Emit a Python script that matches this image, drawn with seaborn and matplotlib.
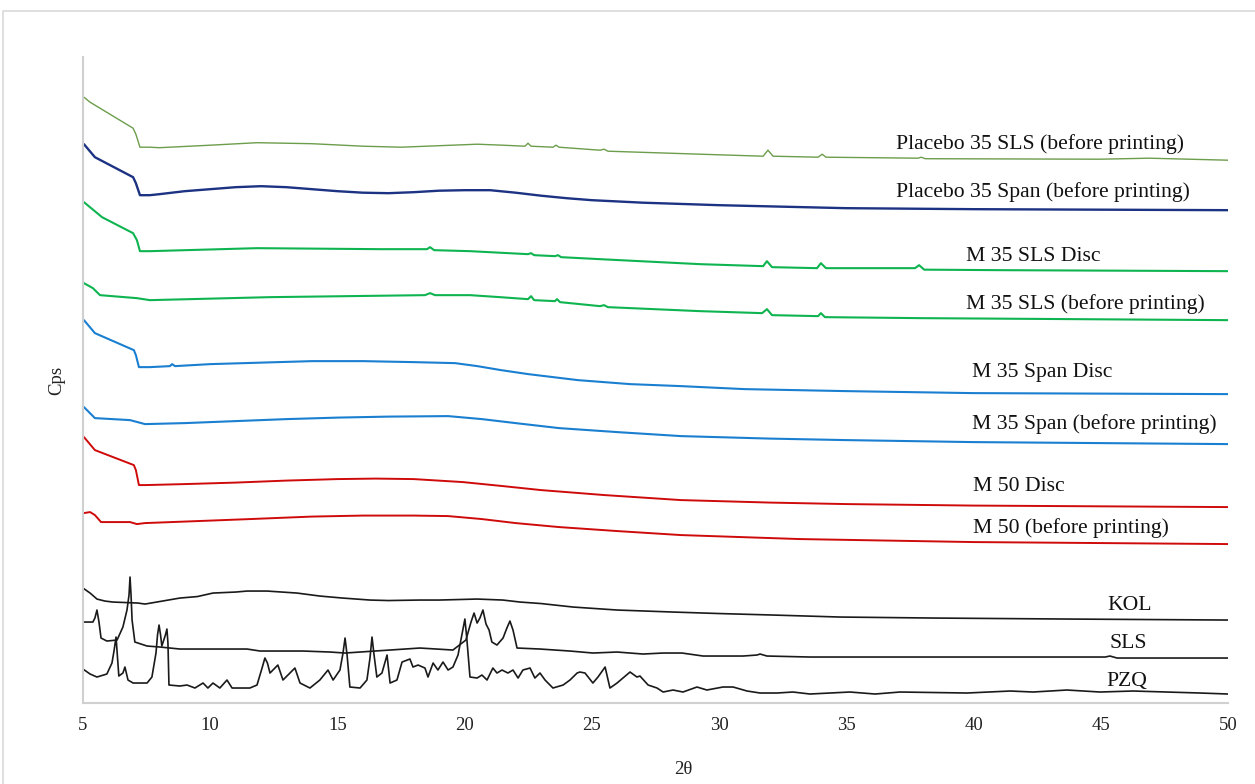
import numpy as np
import pandas as pd
import matplotlib
matplotlib.use("Agg")
import matplotlib.pyplot as plt
import matplotlib.patches as patches
import seaborn as sns

# 2theta / stacked intensity (arbitrary Cps, offset already included)
placebo_sls_x = [5.04, 5.28, 5.67, 6.97, 7.08, 7.24, 7.63, 8.0, 10.0, 11.84, 14.0, 16.0, 17.5, 19.0, 20.5, 21.5,
                 22.37, 22.49, 22.61, 23.47, 23.59, 23.71, 25.32, 25.48, 25.63, 29.25, 31.73, 31.92, 32.12,
                 33.89, 34.05, 34.2, 37.82, 37.94, 38.1, 44.97, 46.9, 50.0]
placebo_sls_y = [606, 601, 595, 575, 569, 556, 556, 555.5, 558, 560.5, 559.5, 557, 556, 557.5, 559, 558,
                 557, 560, 557, 556, 558, 556, 553, 554, 552, 549, 547, 553, 547,
                 546, 549, 546, 545, 546, 544.5, 544, 545, 543]

placebo_span_x = [5.04, 5.47, 6.97, 7.08, 7.24, 7.63, 8.0, 9.0, 10.0, 11.0, 12.0, 13.0, 14.0, 15.0, 16.0, 17.0,
                  18.0, 19.0, 20.0, 21.0, 22.0, 23.0, 24.0, 25.0, 27.0, 30.0, 35.0, 40.0, 50.0]
placebo_span_y = [559, 546, 526, 520, 508, 508, 509, 512, 514, 516, 517, 516, 514, 512, 510.5, 510,
                  511, 512.5, 513, 513, 510.5, 507.5, 505, 503, 500.5, 498, 495, 494, 493]

m35_sls_disc_x = [5.04, 5.75, 6.97, 7.12, 7.24, 7.63, 11.84, 16.67, 18.52, 18.64, 18.8, 20.21, 22.49, 22.61, 22.73,
                  23.55, 23.67, 23.79, 25.32, 29.25, 31.73, 31.88, 32.08, 33.85, 34.0, 34.2, 37.7, 37.86, 38.06, 41.04, 50.0]
m35_sls_disc_y = [501, 486, 470, 463, 452, 452, 455, 454, 454, 456, 453, 452, 449, 450, 448,
                  447, 448, 446, 444, 439, 437, 442, 436, 435, 440, 435, 435, 438, 433.5, 433, 432]

m35_sls_before_x = [5.04, 5.39, 5.67, 7.12, 7.63, 12.35, 18.44, 18.64, 18.84, 20.21, 21.39, 22.49, 22.61, 22.73,
                    23.55, 23.63, 23.75, 25.32, 25.48, 25.63, 29.25, 31.69, 31.88, 32.08, 33.89, 34.0, 34.16, 37.9, 50.0]
m35_sls_before_y = [420, 415, 408, 405, 403, 406, 408, 410, 408, 408, 406, 404, 407, 403,
                    402, 404, 401, 397, 398, 396, 392, 390, 394, 388, 387, 390, 386, 385, 383]

m35_span_disc_x = [5.04, 5.47, 7.0, 7.08, 7.2, 7.63, 8.42, 8.5, 8.62, 10.0, 12.0, 14.0, 16.0, 18.0, 19.62, 20.5,
                   21.43, 22.5, 24.45, 26.5, 28.5, 31.0, 35.0, 40.0, 50.0]
m35_span_disc_y = [383, 370, 353, 348, 336, 336, 337, 339, 337, 339, 340.5, 342, 342, 341, 340, 337,
                   333, 329, 323, 319, 317, 314, 312, 310, 309]

m35_span_before_x = [5.04, 5.47, 6.85, 7.44, 9.0, 11.0, 13.0, 15.0, 17.0, 19.35, 20.68, 22.0, 23.71, 26.0, 28.5,
                     32.0, 35.0, 40.0, 50.0]
m35_span_before_y = [296, 285, 283, 279, 280, 282, 284, 285.5, 286.5, 287, 284, 280, 275, 271, 267,
                     264.5, 263, 261, 259]

m50_disc_x = [5.04, 5.47, 7.0, 7.08, 7.2, 7.44, 9.0, 11.0, 13.0, 15.0, 16.5, 18.0, 19.93, 21.5, 23.0, 25.5, 28.5,
              32.0, 35.0, 40.0, 50.0]
m50_disc_y = [266, 253, 238, 233, 218, 218, 219, 220.5, 222.5, 224, 224.5, 224, 221, 217, 213, 208, 203,
              200.5, 199, 197.5, 196]

m50_before_x = [5.04, 5.28, 5.47, 5.71, 6.85, 7.12, 7.44, 9.0, 11.56, 14.0, 16.0, 18.0, 19.35, 20.68, 22.0, 23.71,
                26.0, 28.5, 33.18, 40.0, 50.0]
m50_before_y = [190, 191, 188, 181, 181, 179, 180, 181.5, 184, 186.5, 187.5, 187.5, 187, 184, 180, 176,
                172, 168, 164, 161, 159]

kol_x = [5.0, 5.28, 5.55, 5.86, 6.18, 7.16, 7.44, 7.9, 8.81, 9.5, 10.11, 11.0, 11.45, 12.23, 13.41, 14.31, 15.2,
         16.28, 17.0, 18.24, 19.0, 20.49, 21.5, 22.18, 23.0, 24.26, 26.0, 28.19, 30.0, 32.12, 34.75, 38.41, 43.67, 50.0]
kol_y = [115, 110, 104, 102, 101, 100, 99, 101, 105, 106.5, 110, 111, 112, 112, 110, 107, 105,
         103, 102.5, 103, 103, 104, 103, 101, 99.5, 96, 93, 91, 89.5, 88, 86, 85, 84, 83]

sls_x = [5.0, 5.39, 5.47, 5.55, 5.63, 5.71, 5.94, 6.34, 6.57, 6.73, 6.81, 6.85, 6.89, 6.93, 7.04, 7.52, 8.03, 8.81,
         10.11, 11.45, 11.96, 13.65, 14.71, 15.3, 18.24, 19.54, 20.05, 20.25, 20.37, 20.49, 20.6, 20.72, 20.84,
         20.96, 21.07, 21.27, 21.51, 21.66, 21.78, 21.9, 22.06, 22.96, 24.14, 25.04, 25.99, 27.01, 27.8, 28.54,
         29.37, 30.94, 31.49, 31.61, 31.88, 33.57, 37.11, 42.34, 45.17, 45.36, 45.64, 50.0]
sls_y = [81, 81, 85, 93, 81, 65, 62, 63, 76, 93, 108, 126, 108, 83, 61, 57, 56, 54,
         54, 54, 52, 52, 51, 50, 55, 53, 63, 81, 90, 80, 85, 93, 79,
         73, 61, 58, 65, 75, 82, 73, 55, 54, 52, 50, 51, 49, 50, 50,
         47, 47, 48, 49, 47, 46, 46, 46, 46, 47, 45, 45]

pzq_x = [5.0, 5.28, 5.55, 5.94, 6.14, 6.22, 6.3, 6.36, 6.41, 6.57, 6.65, 6.77, 6.97, 7.52, 7.71, 7.87, 7.93, 7.99,
         8.05, 8.1, 8.24, 8.3, 8.34, 8.38, 8.81, 9.09, 9.4, 9.72, 9.91, 10.11, 10.38, 10.66, 10.86, 11.56, 11.84,
         12.05, 12.15, 12.25, 12.35, 12.66, 12.86, 13.33, 13.53, 13.92, 14.31, 14.63, 14.83, 15.1, 15.22, 15.3,
         15.38, 15.49, 15.89, 16.16, 16.28, 16.36, 16.44, 16.55, 16.75, 16.95, 17.07, 17.34, 17.54, 17.85, 17.97,
         18.17, 18.44, 18.56, 18.76, 18.95, 19.15, 19.35, 19.54, 19.74, 19.92, 20.01, 20.08, 20.21, 20.49, 20.68,
         20.88, 21.11, 21.27, 21.47, 21.7, 21.9, 22.1, 22.29, 22.57, 22.76, 22.96, 23.16, 23.47, 23.87, 24.14,
         24.42, 24.53, 24.73, 25.04, 25.24, 25.52, 25.71, 25.99, 26.5, 26.77, 26.89, 27.21, 27.56, 27.8, 28.19,
         28.58, 29.13, 29.52, 30.15, 30.55, 31.1, 31.61, 32.28, 32.9, 33.57, 35.14, 36.13, 37.11, 39.74, 41.44,
         42.34, 43.67, 44.97, 46.27, 47.6, 48.9, 50.0]
pzq_y = [34, 29, 26, 29, 40, 52, 66, 45, 27, 30, 36, 23, 20, 20, 26, 50, 68, 78, 68, 57, 68, 74, 60, 18,
         17, 18, 15, 20, 15, 20, 15, 23, 15, 15, 18,
         36, 45, 40, 30, 38, 23, 35, 20, 15, 23, 33, 23, 33, 50, 65,
         48, 16, 15, 23, 45, 66, 48, 26, 30, 48, 20, 23, 41, 44, 36,
         38, 35, 26, 40, 33, 41, 33, 36, 48, 72, 84, 66, 26, 25, 28,
         23, 35, 30, 33, 30, 33, 25, 33, 35, 25, 30, 23, 15, 18, 23,
         30, 31, 30, 20, 26, 36, 15, 20, 31, 26, 27, 18, 15, 11, 13,
         11, 16, 13, 16, 16, 12, 10, 10, 11, 9, 11, 9, 11, 10, 12,
         11, 13, 11, 12, 11, 10, 9]

series_names = ["Placebo 35 SLS (before printing)", "Placebo 35 Span (before printing)", "M 35 SLS Disc",
                "M 35 SLS (before printing)", "M 35 Span Disc", "M 35 Span (before printing)", "M 50 Disc",
                "M 50 (before printing)", "KOL", "SLS", "PZQ"]
series_x = [placebo_sls_x, placebo_span_x, m35_sls_disc_x, m35_sls_before_x, m35_span_disc_x, m35_span_before_x,
            m50_disc_x, m50_before_x, kol_x, sls_x, pzq_x]
series_y = [placebo_sls_y, placebo_span_y, m35_sls_disc_y, m35_sls_before_y, m35_span_disc_y, m35_span_before_y,
            m50_disc_y, m50_before_y, kol_y, sls_y, pzq_y]

colors = ["#6c9d4c", "#1c3282", "#0eb450", "#0eb450", "#1a7fd0", "#1a7fd0", "#cf0a0a", "#cf0a0a",
          "#1a1a1a", "#1a1a1a", "#1a1a1a"]
widths = [1.0, 1.7, 1.5, 1.5, 1.5, 1.5, 1.4, 1.4, 1.2, 1.2, 1.2]

# label anchor (left edge in 2theta, centre height in plot units)
label_x = [36.95, 36.95, 39.7, 39.7, 39.95, 39.95, 39.97, 39.97, 45.27, 45.35, 45.22]
label_y = [559, 511, 447, 399, 331, 279, 217, 175, 98, 60, 22]

sns.set_style("white")
plt.rcParams["font.family"] = ["Liberation Serif", "DejaVu Serif"]

fig = plt.figure(figsize=(12.55, 7.84), dpi=100)
ax = fig.add_axes([0.0661, 0.1033, 0.9124, 0.8237])

for name, xs, ys, c, lw in zip(series_names, series_x, series_y, colors, widths):
    df = pd.DataFrame({"2theta": xs, "cps": ys})
    sns.lineplot(data=df, x="2theta", y="cps", color=c, linewidth=lw, ax=ax, sort=False)

for name, lx, ly in zip(series_names, label_x, label_y):
    ax.text(lx, ly, name, fontsize=15.6, ha="left", va="center", color="#111111")

ax.set_xlim(5, 50)
ax.set_ylim(0, 646)
ax.set_xticks(np.arange(5, 51, 5))
ax.set_yticks([])
ax.tick_params(axis="x", length=0, pad=10, labelsize=13.5, colors="#222222")
ax.set_xlabel("")
ax.set_ylabel("")
for s in ["top", "right"]:
    ax.spines[s].set_visible(False)
for s in ["left", "bottom"]:
    ax.spines[s].set_color("#d0d0d0")
    ax.spines[s].set_linewidth(1.5)

fig.text(683 / 1255, 1 - 770 / 784, "2θ", fontsize=13.5, ha="center", va="center", color="#222222")
fig.text(57 / 1255, 1 - 380 / 784, "Cps", fontsize=13.5, ha="center", va="center", rotation=90, color="#222222")

border = patches.Rectangle((3 / 1255, -0.1), 1.2, 1.1 - 11 / 784, transform=fig.transFigure,
                           fill=False, edgecolor="#d9d9d9", linewidth=1.2, clip_on=False)
fig.patches.append(border)

fig.savefig("out.png", dpi=100)
